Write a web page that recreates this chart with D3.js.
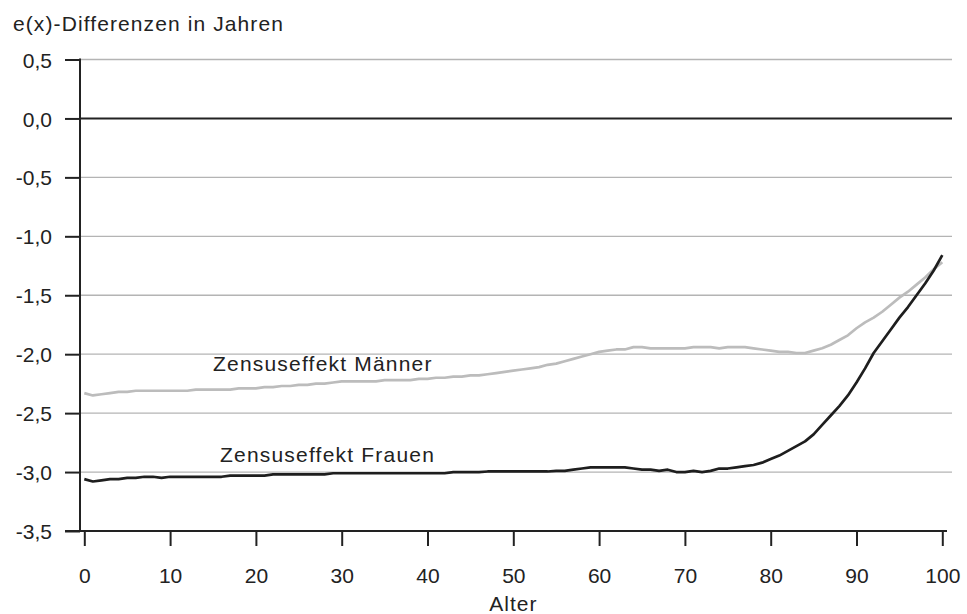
<!DOCTYPE html>
<html>
<head>
<meta charset="utf-8">
<script src="https://cdn.jsdelivr.net/npm/d3@7/dist/d3.min.js"></script>
<style>
  html, body { margin: 0; padding: 0; background: #fff; }
  svg { display: block; }
  text { font-family: "Liberation Sans", Arial, sans-serif; fill: #222; }
</style>
</head>
<body>
<svg id="chart" width="967" height="614"></svg>
<script>
const ages = d3.range(0, 101);
const maenner = [
  -2.33, -2.35, -2.34, -2.33, -2.32, -2.32, -2.31, -2.31, -2.31, -2.31,
  -2.31, -2.31, -2.31, -2.30, -2.30, -2.30, -2.30, -2.30, -2.29, -2.29,
  -2.29, -2.28, -2.28, -2.27, -2.27, -2.26, -2.26, -2.25, -2.25, -2.24,
  -2.23, -2.23, -2.23, -2.23, -2.23, -2.22, -2.22, -2.22, -2.22, -2.21,
  -2.21, -2.20, -2.20, -2.19, -2.19, -2.18, -2.18, -2.17, -2.16, -2.15,
  -2.14, -2.13, -2.12, -2.11, -2.09, -2.08, -2.06, -2.04, -2.02, -2.00,
  -1.98, -1.97, -1.96, -1.96, -1.94, -1.94, -1.95, -1.95, -1.95, -1.95,
  -1.95, -1.94, -1.94, -1.94, -1.95, -1.94, -1.94, -1.94, -1.95, -1.96,
  -1.97, -1.98, -1.98, -1.99, -1.99, -1.97, -1.95, -1.92, -1.88, -1.84,
  -1.78, -1.73, -1.69, -1.64, -1.58, -1.52, -1.47, -1.41, -1.35, -1.28,
  -1.22
];
const frauen = [
  -3.06, -3.08, -3.07, -3.06, -3.06, -3.05, -3.05, -3.04, -3.04, -3.05,
  -3.04, -3.04, -3.04, -3.04, -3.04, -3.04, -3.04, -3.03, -3.03, -3.03,
  -3.03, -3.03, -3.02, -3.02, -3.02, -3.02, -3.02, -3.02, -3.02, -3.01,
  -3.01, -3.01, -3.01, -3.01, -3.01, -3.01, -3.01, -3.01, -3.01, -3.01,
  -3.01, -3.01, -3.01, -3.00, -3.00, -3.00, -3.00, -2.995, -2.995, -2.995,
  -2.995, -2.995, -2.995, -2.995, -2.995, -2.99, -2.99, -2.98, -2.97, -2.96,
  -2.96, -2.96, -2.96, -2.96, -2.97, -2.98, -2.98, -2.99, -2.98, -3.00,
  -3.00, -2.99, -3.00, -2.99, -2.97, -2.97, -2.96, -2.95, -2.94, -2.92,
  -2.89, -2.86, -2.82, -2.78, -2.74, -2.68, -2.60, -2.52, -2.44, -2.35,
  -2.24, -2.12, -1.99, -1.89, -1.79, -1.69, -1.60, -1.50, -1.40, -1.29,
  -1.16
];
const yTicks = [0.5, 0, -0.5, -1, -1.5, -2, -2.5, -3, -3.5];
const xTicks = [0, 10, 20, 30, 40, 50, 60, 70, 80, 90, 100];
const seriesLabels = ["Zensuseffekt Männer", "Zensuseffekt Frauen"];
const titleText = "e(x)-Differenzen in Jahren";
const xTitle = "Alter";

const FONT = '"Liberation Sans", Arial, sans-serif';
const svg = d3.select("#chart");
const axisX = 80, plotRight = 952;
const x = d3.scaleLinear().domain([0, 100]).range([84.3, 942.3]);
const y = d3.scaleLinear().domain([-3.5, 0.5]).range([531, 59.5]);
const fmt = v => d3.format(".1f")(v).replace(".", ",").replace("−", "-");

// gridlines
svg.append("g").selectAll("line").data(yTicks.filter(v => v !== 0 && v !== -3.5))
  .join("line")
  .attr("x1", axisX).attr("x2", plotRight)
  .attr("y1", d => y(d)).attr("y2", d => y(d))
  .attr("stroke", "#b4b4b4").attr("stroke-width", 1.3);

// y axis
const yAxis = d3.axisLeft(y).tickValues(yTicks).tickSize(15).tickPadding(13).tickFormat(fmt);
const gy = svg.append("g").attr("transform", `translate(${axisX},0)`).call(yAxis);
gy.select(".domain").remove();
gy.selectAll(".tick line").attr("stroke", "#222").attr("stroke-width", 2);
gy.selectAll(".tick text").attr("font-size", 21).attr("fill", "#222")
  .style("font-family", FONT).attr("dy", "0.36em");
svg.append("line").attr("x1", axisX).attr("x2", axisX)
  .attr("y1", y(0.5) - 1).attr("y2", y(-3.5))
  .attr("stroke", "#222").attr("stroke-width", 2);

// zero line
svg.append("line").attr("x1", axisX).attr("x2", plotRight)
  .attr("y1", y(0)).attr("y2", y(0))
  .attr("stroke", "#222").attr("stroke-width", 2);

// x axis
const xAxis = d3.axisBottom(x).tickValues(xTicks).tickSize(15).tickPadding(22).tickFormat(d3.format("d"));
const gx = svg.append("g").attr("transform", `translate(0,${y(-3.5)})`).call(xAxis);
gx.select(".domain").remove();
gx.selectAll(".tick line").attr("stroke", "#222").attr("stroke-width", 2);
gx.selectAll(".tick text").attr("font-size", 21).attr("fill", "#222")
  .style("font-family", FONT);
svg.append("line").attr("x1", 65).attr("x2", 947)
  .attr("y1", y(-3.5)).attr("y2", y(-3.5))
  .attr("stroke", "#222").attr("stroke-width", 2);

// lines
const line = d3.line().x((d, i) => x(ages[i])).y(d => y(d)).curve(d3.curveLinear);
svg.append("path").datum(maenner).attr("d", line)
  .attr("fill", "none").attr("stroke", "#bcbcbc").attr("stroke-width", 2.7)
  .attr("stroke-linejoin", "round");
svg.append("path").datum(frauen).attr("d", line)
  .attr("fill", "none").attr("stroke", "#1e1e1e").attr("stroke-width", 2.7)
  .attr("stroke-linejoin", "round");

// series labels
svg.append("text").attr("x", 213).attr("y", 371).attr("font-size", 21)
  .attr("letter-spacing", 1.2).text(seriesLabels[0]);
svg.append("text").attr("x", 220).attr("y", 462).attr("font-size", 21)
  .attr("letter-spacing", 1.2).text(seriesLabels[1]);

// titles
svg.append("text").attr("x", 13).attr("y", 31).attr("font-size", 21)
  .attr("letter-spacing", 1.1).text(titleText);
svg.append("text").attr("x", x(50)).attr("y", 611).attr("text-anchor", "middle")
  .attr("font-size", 21).attr("letter-spacing", 1).text(xTitle);
</script>
</body>
</html>
